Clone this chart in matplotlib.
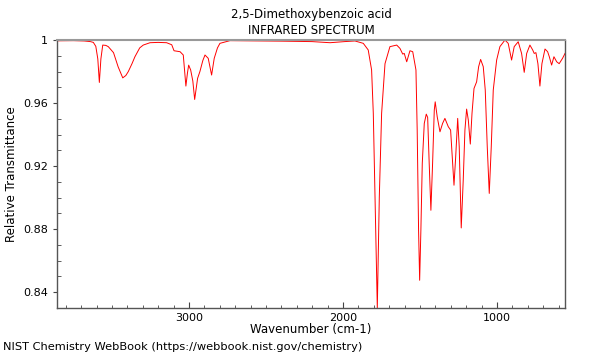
import matplotlib
matplotlib.use("Agg")
import matplotlib.pyplot as plt
from matplotlib.ticker import MultipleLocator, FormatStrFormatter

# Spectrum (wavenumber in cm-1, relative transmittance)
wavenumber = [
    3857, 3750, 3680, 3640, 3621, 3605, 3592, 3586, 3582, 3578, 3572, 3560, 3540, 3524,
    3490, 3460, 3430, 3410, 3394, 3370, 3351, 3320, 3297, 3253, 3200, 3145,
    3112, 3097, 3058, 3037, 3020, 3010, 3002, 2989, 2975, 2963, 2944, 2929,
    2910, 2896, 2875, 2853, 2836, 2815, 2799, 2734, 2600, 2400, 2200, 2084,
    1990, 1922, 1868, 1836, 1814, 1803, 1792, 1777, 1764, 1749, 1727, 1695,
    1651, 1630, 1612, 1602, 1586, 1565, 1547, 1526, 1518, 1509, 1502, 1494,
    1485, 1472, 1459, 1450, 1440, 1429, 1418, 1407, 1401, 1388, 1370, 1353,
    1338, 1316, 1301, 1290, 1279, 1268, 1255, 1245, 1232, 1219, 1208, 1197,
    1186, 1173, 1162, 1149, 1132, 1119, 1106, 1089, 1076, 1063, 1050, 1037,
    1024, 1002, 981, 948, 927, 905, 888, 862, 840, 823, 807, 786, 768, 758,
    747, 734, 721, 708, 688, 671, 660, 645, 630, 612, 596, 574, 558,
]
transmittance = [
    0.9995, 0.9996, 0.9994, 0.9990, 0.9985, 0.9960, 0.9880, 0.9790, 0.9731, 0.9790, 0.9880, 0.9968, 0.9966, 0.9958,
    0.9920, 0.9830, 0.9760, 0.9775, 0.9800, 0.9850, 0.9894, 0.9950, 0.9968, 0.9983, 0.9985, 0.9983,
    0.9970, 0.9932, 0.9926, 0.9905, 0.9708, 0.9790, 0.9841, 0.9810, 0.9740, 0.9623, 0.9757, 0.9800,
    0.9870, 0.9905, 0.9884, 0.9778, 0.9884, 0.9950, 0.9979, 0.9996, 0.9995, 0.9993, 0.9990, 0.9983,
    0.9990, 0.9994, 0.9979, 0.9937, 0.9810, 0.9535, 0.9005, 0.8300, 0.9005, 0.9535, 0.9850, 0.9958,
    0.9968, 0.9947, 0.9911, 0.9915, 0.9862, 0.9932, 0.9926, 0.9810, 0.9429, 0.8794, 0.8476, 0.8794,
    0.9217, 0.9471, 0.9530, 0.9509, 0.9217, 0.8920, 0.9217, 0.9556, 0.9608, 0.9513, 0.9418, 0.9471,
    0.9503, 0.9450, 0.9429, 0.9259, 0.9079, 0.9259, 0.9503, 0.9323, 0.8808, 0.9111, 0.9429, 0.9562,
    0.9492, 0.9340, 0.9535, 0.9693, 0.9735, 0.9831, 0.9877, 0.9831, 0.9683, 0.9323, 0.9027, 0.9323,
    0.9683, 0.9873, 0.9958, 1.0000, 0.9979, 0.9873, 0.9958, 0.9989, 0.9915, 0.9795, 0.9915, 0.9968, 0.9937, 0.9915,
    0.9920, 0.9850, 0.9708, 0.9850, 0.9943, 0.9926, 0.9894, 0.9841, 0.9894, 0.9862, 0.9850, 0.9884, 0.9915,
]

fig = plt.figure(figsize=(6, 3.6), dpi=100)
ax = fig.add_axes([0.095, 0.1444, 0.8467, 0.7444])

ax.plot(wavenumber, transmittance, color="red", lw=0.7)

ax.set_xlim(3857, 558)
ax.set_ylim(0.83, 1.0)

ax.xaxis.set_major_locator(MultipleLocator(1000))
ax.xaxis.set_minor_locator(MultipleLocator(100))
ax.yaxis.set_major_locator(MultipleLocator(0.04))
ax.yaxis.set_minor_locator(MultipleLocator(0.01))
ax.yaxis.set_major_formatter(FormatStrFormatter("%g"))

ax.tick_params(axis="x", which="major", direction="in", length=4, labelsize=8, color="#444")
ax.tick_params(axis="x", which="minor", direction="in", length=2.5, color="#444")
ax.tick_params(axis="y", which="major", direction="out", length=3, labelsize=8, color="#444")
ax.tick_params(axis="y", which="minor", direction="in", length=3, color="#444")

for side in ["left", "bottom", "right"]:
    ax.spines[side].set_color("#555")
    ax.spines[side].set_linewidth(1)
ax.spines["top"].set_color("#999")
ax.spines["top"].set_linewidth(1.5)

ax.set_xlabel("Wavenumber (cm-1)", fontsize=8.5, labelpad=0)
ax.set_ylabel("Relative Transmittance", fontsize=8.5)
ax.set_title("2,5-Dimethoxybenzoic acid\nINFRARED SPECTRUM", fontsize=8.5, pad=4, linespacing=1.35)

fig.text(0.005, 0.022, "NIST Chemistry WebBook (https://webbook.nist.gov/chemistry)",
         fontsize=8.2, ha="left", va="bottom")

fig.savefig("out.png", dpi=100)
